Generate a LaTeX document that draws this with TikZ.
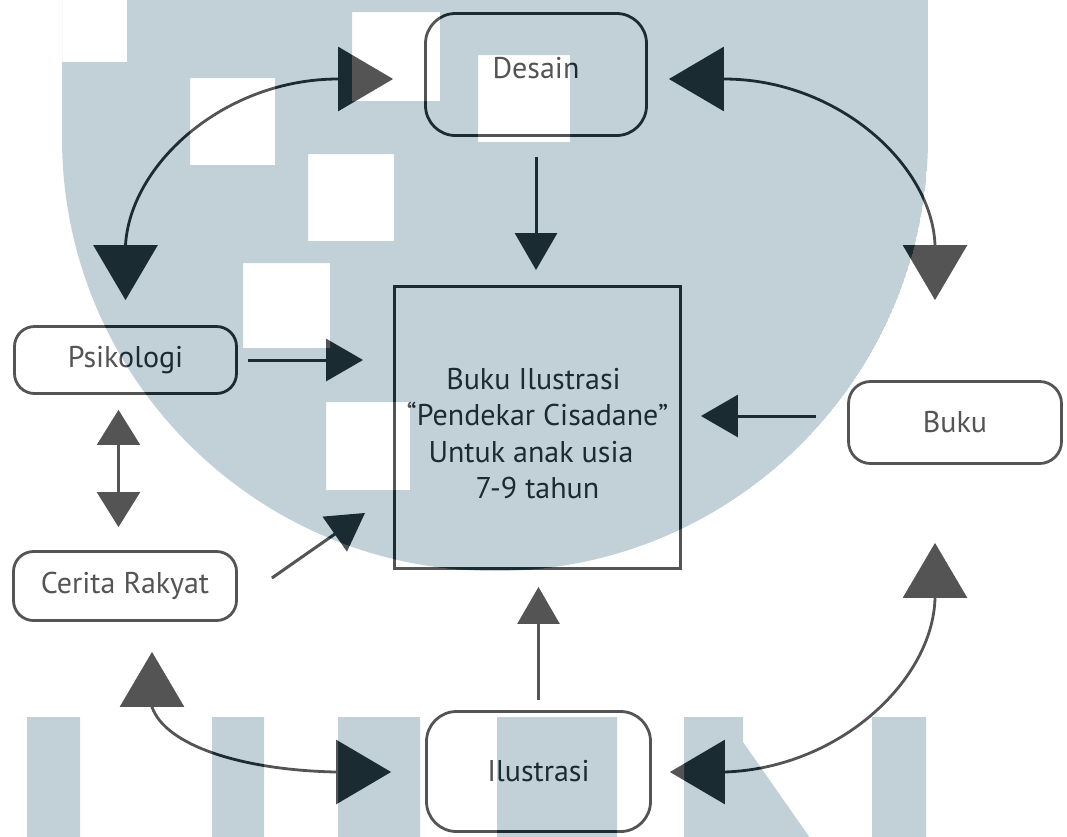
\documentclass[tikz,border=0pt]{standalone}
\usepackage{fontspec}
\setmainfont{PT Sans}
\usetikzlibrary{arrows.meta,calc}
\definecolor{logoblue}{RGB}{80,124,144}
\definecolor{ink}{RGB}{0,0,0}
\begin{document}
\begin{tikzpicture}[x=1pt,y=-1pt,
  lbl/.style={font=\fontsize{30}{36.6}\selectfont, text=ink},
  rbox/.style={lbl, draw=ink, line width=2.8pt, inner sep=0pt, rounded corners=#1},
  mainbox/.style={draw=ink, line width=3.4pt, inner sep=0pt},
  arr/.style={draw=ink, line width=3pt, -{Triangle[length=37pt,width=42pt]}},
  smallarr/.style={draw=ink, line width=2.2pt, {Triangle[length=35pt,width=43pt]}-{Triangle[length=35pt,width=43pt]}},
  bigarr/.style={draw=ink, line width=2.8pt, {Triangle[length=55pt,width=64pt]}-{Triangle[length=55pt,width=64pt]}},
  veil/.style={fill=white, fill opacity=0.33},
  tint/.style={fill=logoblue, fill opacity=0.35}
]
\useasboundingbox (0,0) rectangle (1067,836);
\clip (0,0) rectangle (1067,836);

% ---------- nodes ----------
\node[rbox=30pt, minimum width=221pt, minimum height=122pt] (dsn) at (536,74.5) {\raisebox{6.5pt}[\height][\depth]{Desain}};
\node[mainbox, minimum width=285.5pt, minimum height=281.5pt] (main) at (537.5,427.5) {};
\node[lbl, align=center, inner sep=0pt] (maintxt) at ($(main.center)+(0,6)$)
  {Buku Ilustrasi\rule{8pt}{0pt}\\“Pendekar Cisadane”\\Untuk anak usia\rule{13pt}{0pt}\\7-9 tahun};
\node[rbox=20pt, minimum width=222pt, minimum height=67pt] (psi) at (125.5,360) {Psikologi};
\node[rbox=20pt, minimum width=223pt, minimum height=69pt] (cr) at (125,586) {Cerita Rakyat};
\node[rbox=22pt, minimum width=213pt, minimum height=82pt] (bk) at (955,422.5) {Buku};
\node[rbox=30pt, minimum width=224pt, minimum height=120pt] (il) at (538.5,771.5) {Ilustrasi};

% ---------- straight connectors ----------
\draw[arr, shorten <=20pt, shorten >=15pt] (dsn.south) -- (dsn.south |- main.north);
\draw[arr, shorten <=10pt, shorten >=30pt] (psi.east) -- (psi.east -| main.west);
\draw[arr, shorten <=31pt, shorten >=19pt] ($(bk.west)+(0,-6.5)$) coordinate (bkw) -- (bkw -| main.east);
\draw[arr] ($(cr.east)+(34,-8)$) -- ($(main.south west)+(-28,-57)$);
\draw[arr, shorten <=10pt, shorten >=17pt] (il.north) -- (il.north |- main.south);
\draw[smallarr, shorten <=15pt, shorten >=23pt] ($(psi.south)+(-7,0)$) coordinate (ps) -- (ps |- cr.north);

% ---------- curved connectors ----------
\coordinate (lt1) at ($(psi.north)+(0,-25)$);
\coordinate (lt2) at ($(dsn.west)+(-31,4.5)$);
\draw[bigarr] (lt1) -- ++(0,-55) .. controls +(5,-82) and +(-113,0) .. ($(lt2)+(-55,0)$) -- (lt2);

\coordinate (rt1) at ($(dsn.east)+(21,4.5)$);
\coordinate (rt2) at ($(bk.north)+(-20,-80)$);
\draw[bigarr] (rt1) -- ++(55,0) .. controls +(114,0) and +(-3,-80) .. ($(rt2)+(0,-55)$) -- (rt2);

\coordinate (bt1) at ($(cr.south)+(27,30)$);
\coordinate (bt2) at ($(il.west)+(-34,0.5)$);
\draw[bigarr] (bt1) -- ++(0,55) .. controls +(13,38) and +(-96,-2) .. ($(bt2)+(-55,0)$) -- (bt2);

\coordinate (br1) at ($(il.east)+(18,0.5)$);
\coordinate (br2) at ($(bk.south)+(-20,78)$);
\draw[bigarr] (br1) -- ++(55,0) .. controls +(115,-4) and +(-2,82) .. ($(br2)+(0,55)$) -- (br2);

% ---------- watermark overlay ----------
\def\wmblob{(62,-10) -- (928,-10) -- (928,138) arc[start angle=0, end angle=180, radius=433] -- cycle}
\def\wmsquares{(55,-5) rectangle (127,62) (190,78) rectangle (275,165) (308,154) rectangle (394,241)
  (243,263) rectangle (330,348) (352,12) rectangle (440,101) (478,55) rectangle (570,142)
  (326,402) rectangle (410,490)}
\def\wmletters{(27,717) rectangle (80,845) (212,717) rectangle (264,845)
  (338,717) rectangle (420,845) (497,717) rectangle (617,845)
  (684,717) -- (743,717) -- (743,742) -- (815,845) -- (684,845) -- cycle
  (872,717) rectangle (926,845)}
\fill[veil, even odd rule] (-10,-10) rectangle (1077,846) \wmblob \wmletters;
\begin{scope}
  \clip \wmblob;
  \fill[veil] \wmsquares;
\end{scope}
\begin{scope}
  \clip \wmblob;
  \fill[tint, even odd rule] \wmblob \wmsquares;
\end{scope}
\fill[tint] \wmletters;
\end{tikzpicture}
\end{document}
